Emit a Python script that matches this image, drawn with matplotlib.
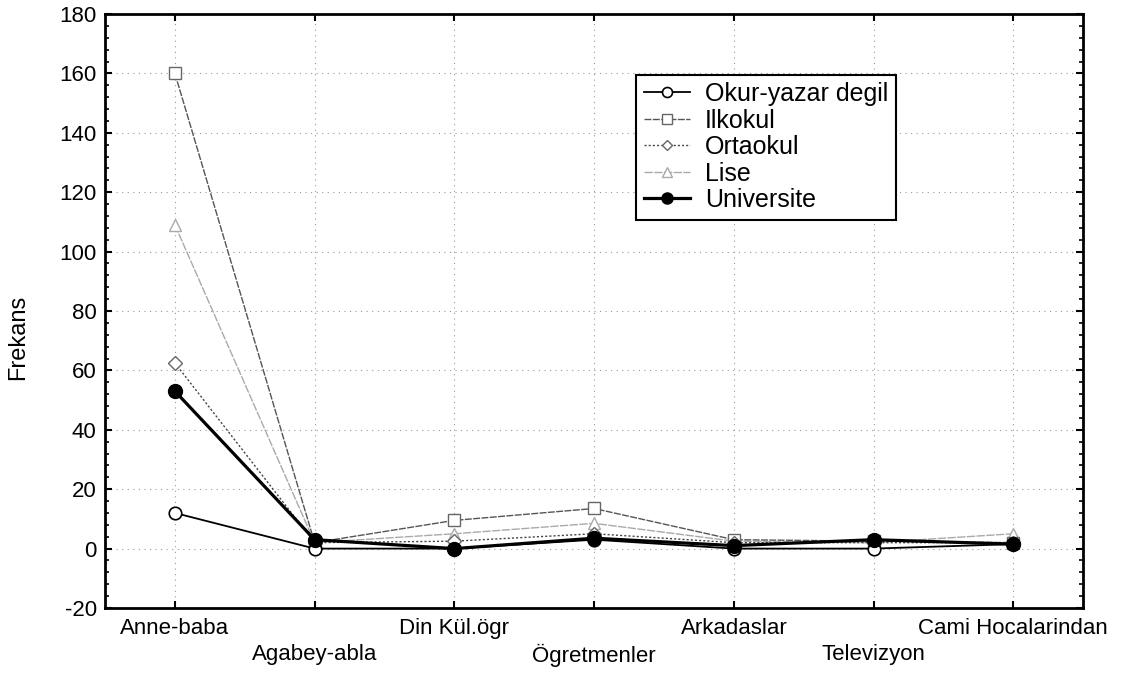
import numpy as np
from matplotlib import pyplot as plt
from matplotlib.ticker import MultipleLocator

plt.rcParams['font.family'] = ['Liberation Sans', 'DejaVu Sans']
plt.rcParams['axes.unicode_minus'] = False

categories = ['Anne-baba', 'Agabey-abla', 'Din Kül.ögr', 'Ögretmenler',
              'Arkadaslar', 'Televizyon', 'Cami Hocalarindan']

okur_yazar = [12, 0, 0, 3, 0, 0, 1.5]
ilkokul = [160, 2, 9.5, 13.5, 3, 2.5, 2]
ortaokul = [62.5, 2, 2.5, 5, 2, 2, 2]
lise = [109, 2, 5, 8.5, 2.5, 2, 5]
universite = [53, 3, 0, 3.5, 1, 3, 1.5]

series_names = ['Okur-yazar degil', 'Ilkokul', 'Ortaokul', 'Lise', 'Universite']

fig = plt.figure(figsize=(11.39, 6.76), dpi=100)
ax = fig.add_axes([0.0922, 0.1006, 0.8588, 0.8787])

x = np.arange(len(categories))

ax.plot(x, okur_yazar, color='black', lw=1.3, marker='o', ms=9,
        mfc='white', mec='black', mew=1.2, label=series_names[0], zorder=4)
ax.plot(x, ilkokul, color='#555555', lw=1.0, ls=(0, (5, 1)), marker='s', ms=9,
        mfc='white', mec='#666666', mew=1.0, label=series_names[1], zorder=3)
ax.plot(x, ortaokul, color='#444444', lw=1.0, ls=(0, (1.5, 1.5)), marker='D', ms=7,
        mfc='white', mec='#666666', mew=1.0, label=series_names[2], zorder=3)
ax.plot(x, lise, color='#aaaaaa', lw=1.0, ls=(0, (6, 1)), marker='^', ms=9,
        mfc='white', mec='#aaaaaa', mew=1.0, label=series_names[3], zorder=2)
ax.plot(x, universite, color='black', lw=2.3, marker='o', ms=10,
        mfc='black', mec='black', label=series_names[4], zorder=5)

ax.set_xlim(-0.5, len(categories) - 0.5)
ax.set_ylim(-20, 180)
ax.yaxis.set_major_locator(MultipleLocator(20))
ax.yaxis.set_minor_locator(MultipleLocator(4))

ax.set_xticks(x)
ax.set_xticklabels([c if i % 2 == 0 else '\n' + c for i, c in enumerate(categories)])
for lbl in ax.get_xticklabels():
    lbl.set_linespacing(1.3)

ax.tick_params(axis='both', which='both', direction='in', top=True, right=True,
               labelsize=16, color='black')
ax.tick_params(axis='y', which='major', length=5, width=1.5)
ax.tick_params(axis='y', which='minor', length=3, width=1.2)
ax.tick_params(axis='x', which='major', length=5, width=1.5, pad=7)
ax.tick_params(axis='y', pad=6)

ax.grid(True, which='major', color='#999999', ls=(0, (1, 4)), lw=0.8)

for s in ax.spines.values():
    s.set_linewidth(2)

ax.set_ylabel('Frekans', fontsize=17)
ax.yaxis.set_label_coords(-0.078, 0.455)

ax.legend(loc='upper left', bbox_to_anchor=(0.543, 0.898), fontsize=18,
          frameon=True, fancybox=False, edgecolor='black', framealpha=1,
          handlelength=1.85, handletextpad=0.6, borderpad=0.3, labelspacing=0.1,
          borderaxespad=0, markerscale=0.8)
ax.get_legend().get_frame().set_linewidth(1.5)

plt.savefig('out.png', dpi=100)
